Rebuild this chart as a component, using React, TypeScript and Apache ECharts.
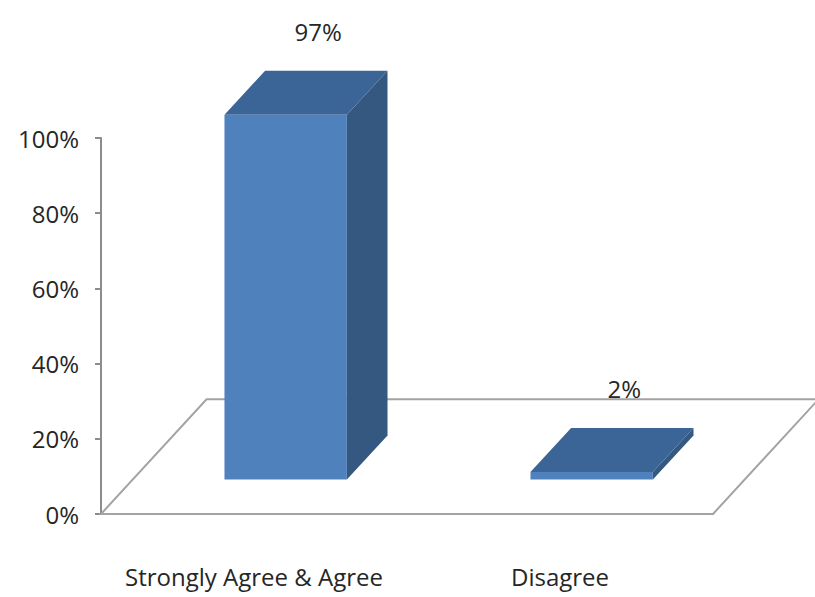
import React, { useEffect, useRef } from "react";
import * as echarts from "echarts";

const categories = ["Strongly Agree & Agree", "Disagree"];
const percentValues = [97, 2];
const percentTicks = [0, 20, 40, 60, 80, 100];

const FONT = "'Open Sans', 'Liberation Sans', sans-serif";
const FONT_SIZE = 24;
const TEXT_COLOR = "#262626";
const AXIS_COLOR = "#8c8c8c";
const FLOOR_COLOR = "#a3a3a3";

// Oblique 3D geometry, expressed as fractions of one category band
const DEPTH_X = 0.345;
const DEPTH_Y = 0.375;
const BAR_WIDTH = 0.4;
const BAR_FRONT = 0.3; // share of the floor depth in front of each bar
const BAR_DEPTH = 0.385; // share of the floor depth taken by each bar

const FACE_FRONT = "#4f81bd";
const FACE_TOP = "#3c6597";
const FACE_SIDE = "#34587f";

function renderFloor(_params: any, api: any) {
  const band = api.size([1, 0])[0];
  const origin = api.coord([0, percentTicks[0]]);
  const left = origin[0] - band / 2;
  const right = left + band * categories.length;
  const y = origin[1];
  const dx = DEPTH_X * band;
  const dy = -DEPTH_Y * band;
  return {
    type: "polygon",
    shape: {
      points: [
        [left, y],
        [right, y],
        [right + dx, y + dy],
        [left + dx, y + dy],
      ],
    },
    style: { fill: "#ffffff", stroke: FLOOR_COLOR, lineWidth: 2 },
  };
}

function renderBar(_params: any, api: any) {
  const idx = api.value(0);
  const val = api.value(1);
  const band = api.size([1, 0])[0];
  const top = api.coord([idx, val]);
  const base = api.coord([idx, 0]);
  const dX = DEPTH_X * band;
  const dY = -DEPTH_Y * band;
  const w = BAR_WIDTH * band;
  const x0 = base[0] - w / 2 + BAR_FRONT * dX;
  const x1 = x0 + w;
  const yBot = base[1] + BAR_FRONT * dY;
  const yTop = top[1] + BAR_FRONT * dY;
  const bx = BAR_DEPTH * dX;
  const by = BAR_DEPTH * dY;
  return {
    type: "group",
    children: [
      {
        type: "polygon",
        shape: { points: [[x1, yTop], [x1 + bx, yTop + by], [x1 + bx, yBot + by], [x1, yBot]] },
        style: { fill: FACE_SIDE },
      },
      {
        type: "polygon",
        shape: { points: [[x0, yTop], [x1, yTop], [x1 + bx, yTop + by], [x0 + bx, yTop + by]] },
        style: { fill: FACE_TOP },
      },
      {
        type: "rect",
        shape: { x: x0, y: yTop, width: w, height: yBot - yTop },
        style: { fill: FACE_FRONT },
      },
      {
        type: "text",
        x: x0 + w / 2 + 0.8 * bx,
        y: yTop + by - 39,
        style: {
          text: val + "%",
          fontFamily: FONT,
          fontSize: FONT_SIZE,
          fill: TEXT_COLOR,
          align: "center",
          verticalAlign: "middle",
        },
      },
    ],
  };
}

export default function App() {
  const ref = useRef<HTMLDivElement>(null);
  useEffect(() => {
    const chart = echarts.init(ref.current!, undefined, { renderer: "svg" });
    chart.setOption({
      animation: false,
      backgroundColor: "#ffffff",
      grid: { left: 101, right: 102, top: 138, bottom: 83 },
      xAxis: {
        type: "category",
        data: categories,
        axisLine: { lineStyle: { color: AXIS_COLOR, width: 2 } },
        axisTick: { length: 10, lineStyle: { color: AXIS_COLOR, width: 2 } },
        axisLabel: {
          interval: 0,
          margin: 50,
          fontFamily: FONT,
          fontSize: FONT_SIZE,
          color: TEXT_COLOR,
        },
      },
      yAxis: {
        type: "value",
        min: percentTicks[0],
        max: percentTicks[percentTicks.length - 1],
        interval: percentTicks[1] - percentTicks[0],
        axisLine: { show: true, lineStyle: { color: AXIS_COLOR, width: 2 } },
        axisTick: { show: true, length: 6, lineStyle: { color: AXIS_COLOR, width: 2 } },
        axisLabel: {
          formatter: "{value}%",
          margin: 22,
          fontFamily: FONT,
          fontSize: FONT_SIZE,
          color: TEXT_COLOR,
        },
        splitLine: { show: false },
      },
      series: [
        { type: "custom", data: [[0, 0]], renderItem: renderFloor, z: 1, silent: true },
        {
          type: "custom",
          data: percentValues.map((v, i) => [i, v]),
          renderItem: renderBar,
          z: 2,
        },
      ],
    });
    return () => chart.dispose();
  }, []);
  return (
    <div
      ref={ref}
      style={{ position: "fixed", left: 0, top: 0, width: 815, height: 597, background: "#fff" }}
    />
  );
}
